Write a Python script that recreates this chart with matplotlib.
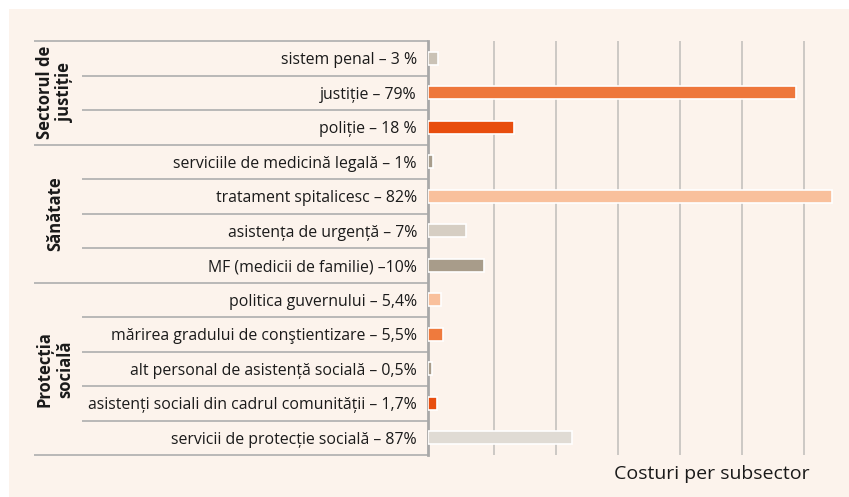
import matplotlib.pyplot as plt
from matplotlib.patches import Rectangle
from matplotlib.transforms import blended_transform_factory

plt.rcParams['font.family'] = ['Open Sans', 'DejaVu Sans']

labels = [
    "sistem penal – 3 %",
    "justiție – 79%",
    "poliție – 18 %",
    "serviciile de medicină legală – 1%",
    "tratament spitalicesc – 82%",
    "asistența de urgență – 7%",
    "MF (medicii de familie) –10%",
    "politica guvernului – 5,4%",
    "mărirea gradului de conştientizare – 5,5%",
    "alt personal de asistență socială – 0,5%",
    "asistenți sociali din cadrul comunității – 1,7%",
    "servicii de protecție socială – 87%",
]
costs = [9.7, 367.7, 85.7, 5.3, 404.3, 38, 56.3, 13.3, 15, 3.5, 9, 143.7]
colors = ["#cac2b6", "#ee773c", "#e84e0f", "#a89d8c", "#f9c09c", "#d6cec3",
          "#a89c8a", "#f9c09c", "#ef7a3d", "#a89c8a", "#e84e0f", "#e0dbd4"]

groups = ["Sectorul de\njustiție", "Sănătate", "Protecția\nsocială"]
group_sizes = [3, 4, 5]
grid_ticks = [66, 128, 190, 252, 314, 376]

W, H = 849, 497
fig = plt.figure(figsize=(W / 100, H / 100), dpi=100, facecolor="white")
fig.add_artist(Rectangle((9 / W, 0), 1, (H - 9) / H, transform=fig.transFigure,
                         facecolor="#fcf3ec", edgecolor="none", zorder=-10))

ax_l, ax_r, ax_t, ax_b = 428, 845, 41, 455
ax = fig.add_axes([ax_l / W, 1 - ax_b / H, (ax_r - ax_l) / W, (ax_b - ax_t) / H])
ax.set_facecolor("none")

rows = list(range(len(labels)))
ax.barh(rows, costs, height=0.37, color=colors, edgecolor="white", linewidth=1.2, zorder=3)
ax.set_xlim(0, ax_r - ax_l)
ax.set_ylim(len(labels) - 0.5, -0.5)

ax.set_xticks(grid_ticks)
ax.set_xticklabels([])
ax.grid(axis="x", color="#c9c5c1", linewidth=1.3, zorder=1)
ax.set_axisbelow(True)
ax.tick_params(axis="both", length=0)
ax.set_yticks(rows)
ax.set_yticklabels(labels, fontsize=11.4, color="#1a1a1a")
ax.tick_params(axis="y", pad=8)

for s in ["top", "right", "bottom"]:
    ax.spines[s].set_visible(False)
ax.spines["left"].set_color("#a8a8a8")
ax.spines["left"].set_linewidth(2)
ax.spines["left"].set_zorder(2)

# table row lines
tr = blended_transform_factory(ax.transAxes, ax.transData)
inner_x = -(ax_l - 82) / (ax_r - ax_l)
outer_x = -(ax_l - 34) / (ax_r - ax_l)
group_edges = [0]
for n in group_sizes:
    group_edges.append(group_edges[-1] + n)
for k in range(len(labels) + 1):
    x0 = outer_x if k in group_edges else inner_x
    ax.plot([x0, 0], [k - 0.5, k - 0.5], transform=tr, color="#b3b3b3",
            linewidth=1.3, clip_on=False, solid_capstyle="butt")

# group labels
for g, a, b in zip(groups, group_edges[:-1], group_edges[1:]):
    ax.text(-(ax_l - 55) / (ax_r - ax_l), (a + b - 1) / 2, g, transform=tr,
            rotation=90, ha="center", va="center", fontsize=12,
            fontweight="bold", color="#1a1a1a", linespacing=1.15)

fig.text(712 / W, 1 - 474 / H, "Costuri per subsector", ha="center", va="center",
         fontsize=14, color="#1a1a1a")

fig.savefig("out.png", dpi=100, facecolor="white")
